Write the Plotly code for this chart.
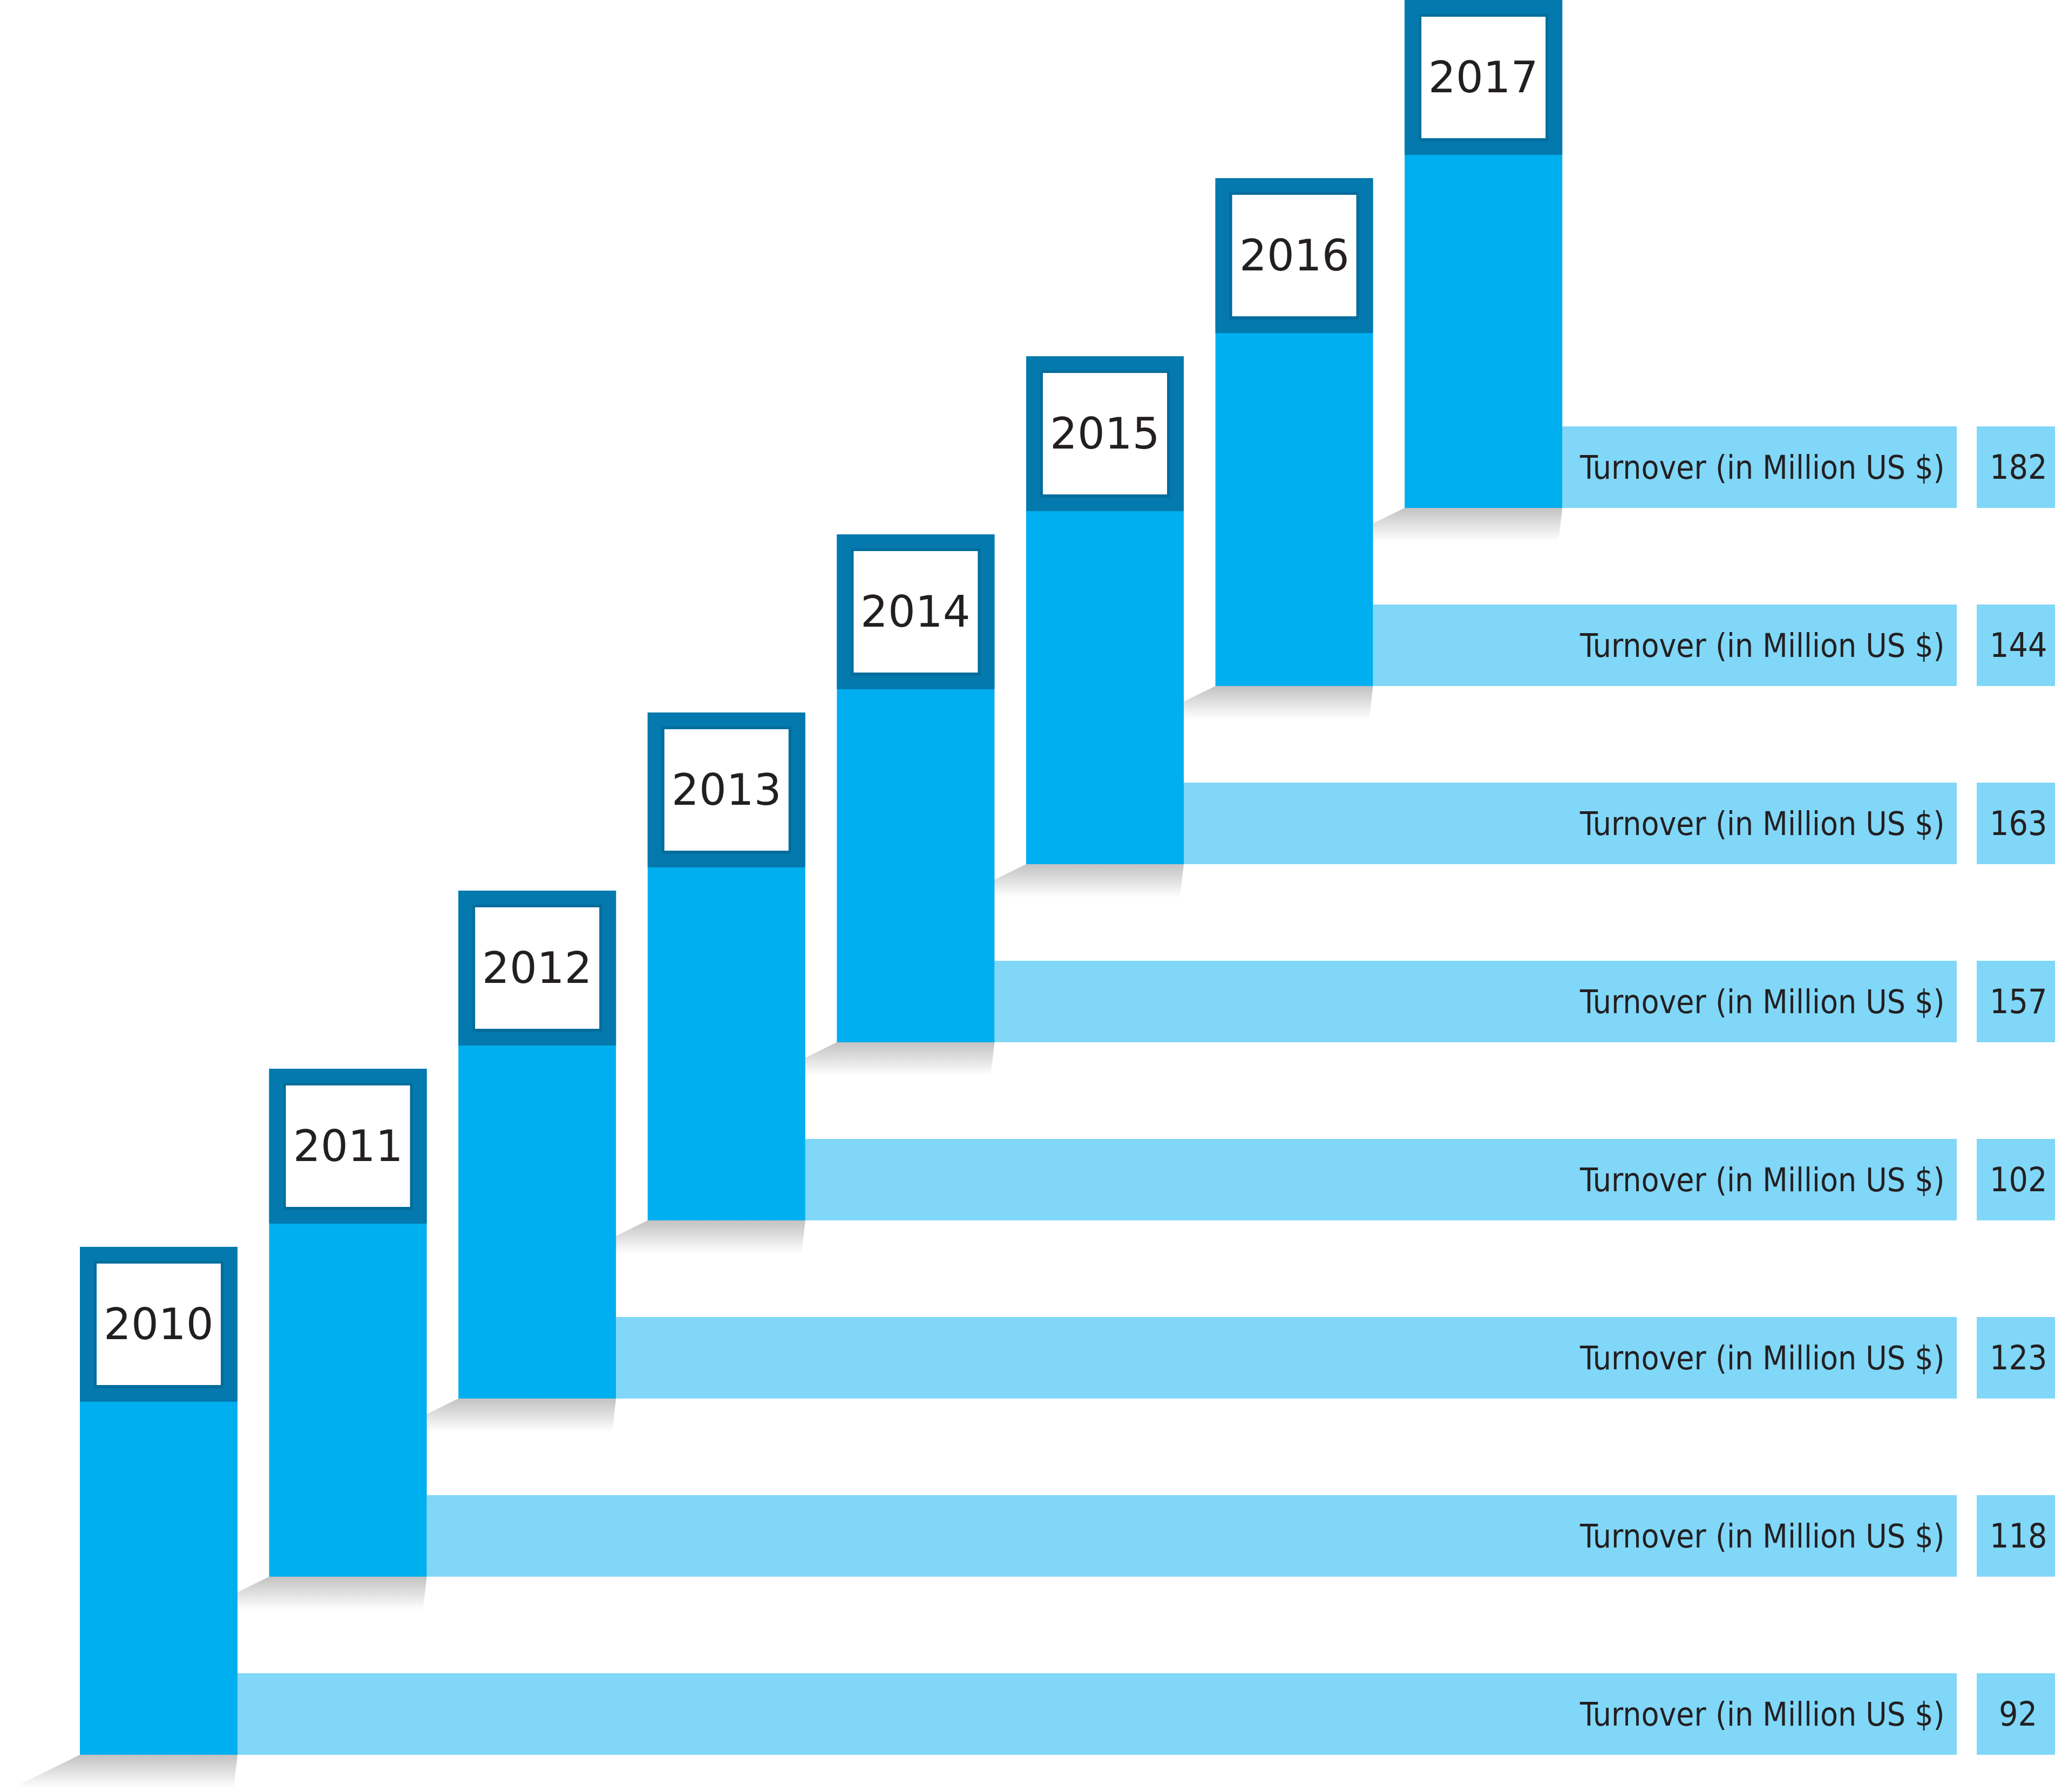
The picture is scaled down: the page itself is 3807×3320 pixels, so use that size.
import plotly.graph_objects as go

# ---------------- data ----------------
years = ["2010", "2011", "2012", "2013", "2014", "2015", "2016", "2017"]
turnover = [92, 118, 123, 102, 157, 163, 144, 182]
series_label = "Turnover (in Million US $)"

# ---------------- layout constants (canvas units) ----------------
W, H = 3807, 3320
COL_X0 = 148        # left edge of first column
COL_STEP = 350.6    # horizontal step between columns
COL_W = 292         # column width
ROW_STEP = 330      # vertical step between columns
COL_H = 941         # frame top to column bottom
FRAME_H = 287       # dark frame height
INSET = 31          # white label box inset
BAND_H = 151        # light band height
BAND_X1 = 3625      # right edge of light band
VAL_X0, VAL_X1 = 3662, 3807
SHADOW_D = 62

C_FRAME = "#0379ad"
C_FRAME_DARK = "#026895"
C_COL = "#00afef"
C_BAND = "#80d7f8"
C_TEXT = "#231f20"

n = len(years)
fig = go.Figure()
shapes = []
annotations = []

for i, (yr, val) in enumerate(zip(years, turnover)):
    left = COL_X0 + i * COL_STEP
    right = left + COL_W
    top = (n - 1 - i) * ROW_STEP
    bottom = top + COL_H

    # shadow under column (gradient)
    fig.add_trace(go.Scatter(
        x=[left, right, right - 7, left - 126, left],
        y=[bottom, bottom, bottom + SHADOW_D, bottom + SHADOW_D, bottom],
        mode="lines", line=dict(width=0), fill="toself",
        fillgradient=dict(type="vertical",
                          colorscale=[[0, "#c2c2c2"], [1, "#ffffff"]],
                          start=bottom, stop=bottom + SHADOW_D),
        hoverinfo="skip", showlegend=False,
    ))

    # light band
    shapes.append(dict(type="rect", x0=right, x1=BAND_X1, y0=bottom - BAND_H, y1=bottom,
                       fillcolor=C_BAND, line=dict(width=0), layer="above"))
    # value box
    shapes.append(dict(type="rect", x0=VAL_X0, x1=VAL_X1, y0=bottom - BAND_H, y1=bottom,
                       fillcolor=C_BAND, line=dict(width=0), layer="above"))
    # column body
    shapes.append(dict(type="rect", x0=left, x1=right, y0=top, y1=bottom,
                       fillcolor=C_COL, line=dict(width=0), layer="above"))
    # frame
    shapes.append(dict(type="rect", x0=left, x1=right, y0=top, y1=top + FRAME_H,
                       fillcolor=C_FRAME, line=dict(width=0), layer="above"))
    # inner shadow around label box
    shapes.append(dict(type="rect", x0=left + INSET - 5, x1=right - INSET + 5,
                       y0=top + INSET - 5, y1=top + FRAME_H - INSET + 6,
                       fillcolor=C_FRAME_DARK, line=dict(width=0), layer="above", opacity=0.7))
    # white label box
    shapes.append(dict(type="rect", x0=left + INSET, x1=right - INSET,
                       y0=top + INSET, y1=top + FRAME_H - INSET,
                       fillcolor="#ffffff", line=dict(width=0), layer="above"))

    # year label
    annotations.append(dict(x=(left + right) / 2, y=top + FRAME_H / 2, xref="x", yref="y",
                            text=yr, showarrow=False, xanchor="center", yanchor="middle",
                            font=dict(family="DejaVu Sans", size=80, color=C_TEXT)))
    # series label
    annotations.append(dict(x=BAND_X1 - 20, y=bottom - BAND_H / 2, xref="x", yref="y",
                            text=series_label, showarrow=False, xanchor="right", yanchor="middle",
                            font=dict(family="DejaVu Sans Condensed, DejaVu Sans", size=60, color=C_TEXT)))
    # value label
    annotations.append(dict(x=(VAL_X0 + VAL_X1) / 2 + 4, y=bottom - BAND_H / 2, xref="x", yref="y",
                            text=str(val), showarrow=False, xanchor="center", yanchor="middle",
                            font=dict(family="DejaVu Sans Condensed, DejaVu Sans", size=62, color=C_TEXT)))

fig.update_layout(
    width=W, height=H,
    margin=dict(l=0, r=0, t=0, b=0),
    paper_bgcolor="#ffffff", plot_bgcolor="#ffffff",
    shapes=shapes, annotations=annotations,
    showlegend=False,
    xaxis=dict(range=[0, W], visible=False, fixedrange=True),
    yaxis=dict(range=[H, 0], visible=False, fixedrange=True),
)

fig.write_html("out.html", config={"displayModeBar": False},
               post_script="document.body.style.margin='0';document.body.style.overflow='hidden';")
